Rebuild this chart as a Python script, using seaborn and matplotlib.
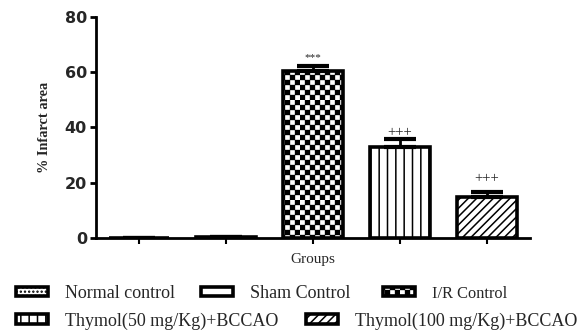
import numpy as np
import pandas as pd
import matplotlib
matplotlib.use("Agg")
import matplotlib.pyplot as plt
import matplotlib.hatch as mhatch
from matplotlib.path import Path
import seaborn as sns

# ---------------- data ----------------
groups = ["Normal control", "Sham Control", "I/R Control",
          "Thymol(50 mg/Kg)+BCCAO", "Thymol(100 mg/Kg)+BCCAO"]
means = [0.0, 0.3, 60.5, 32.8, 14.9]
sems = [0.0, 0.1, 1.9, 3.0, 1.7]
signif = ["", "", "***", "+++", "+++"]
yticks = [0, 20, 40, 60, 80]


# ---------------- custom checkerboard hatch ----------------
class CheckerHatch(mhatch.HatchPatternBase):
    def __init__(self, hatch, density):
        self.n = 20 * hatch.count('c')
        self.num_vertices = 5 * (self.n * self.n // 2)

    def set_vertices_and_codes(self, vertices, codes):
        n = self.n
        s = 1.0 / n
        ins = 0.006
        k = 0
        for i in range(n):
            for j in range(n):
                if (i + j) % 2 == 0:
                    x0, y0 = i * s + ins, j * s + ins
                    x1, y1 = (i + 1) * s - ins, (j + 1) * s - ins
                    vertices[k:k + 5] = [[x0, y0], [x1, y0], [x1, y1], [x0, y1], [x0, y0]]
                    codes[k:k + 5] = [Path.MOVETO, Path.LINETO, Path.LINETO,
                                      Path.LINETO, Path.CLOSEPOLY]
                    k += 5


mhatch._hatch_types.append(CheckerHatch)

# ---------------- style ----------------
sns.set_style("ticks")
plt.rcParams["hatch.linewidth"] = 1.1
plt.rcParams["hatch.color"] = "black"

df = pd.DataFrame({"group": groups, "value": means})

fig = plt.figure(figsize=(5.82, 3.32), dpi=100)
ax = fig.add_axes([0.165, 0.283, 0.746, 0.666])

sns.barplot(data=df, x="group", y="value", hue="group",
            palette=["white"] * len(groups), order=groups, hue_order=groups,
            width=0.69, edgecolor="black", linewidth=2.6, errorbar=None,
            legend=False, ax=ax)

hatches = ["....", "", "c", "||", "////"]
for patch, h in zip(ax.patches, hatches):
    patch.set_hatch(h)
    patch.set_facecolor("white")
    patch.set_edgecolor("black")

xpos = np.arange(len(groups))
ax.errorbar(xpos, means, yerr=[np.zeros(len(sems)), sems], fmt="none",
            ecolor="black", elinewidth=2.0, capsize=11.5, capthick=3.0, zorder=1)

offsets = [0, 0, 5.5, 4.5, 10]
sizes = [8, 8, 8, 10.5, 10.5]
for x, m, s, t, o, fs in zip(xpos, means, sems, signif, offsets, sizes):
    if t:
        ax.annotate(t, (x, m + s), xytext=(0, o), textcoords="offset points",
                    ha="center", va="center", fontsize=fs,
                    family="Liberation Serif")

ax.set_xlim(-0.5, len(groups) - 0.5)
ax.set_ylim(0, 80)
ax.set_yticks(yticks)
ax.set_yticklabels([str(v) for v in yticks], fontsize=11.5, fontweight="bold",
                   family="DejaVu Sans")
ax.set_xticks(xpos)
ax.set_xticklabels([])
ax.tick_params(axis="y", length=4.5, width=2, pad=2, color="black")
ax.tick_params(axis="x", length=4, width=1.5, color="black")
for sp in ["left", "bottom"]:
    ax.spines[sp].set_linewidth(2)
    ax.spines[sp].set_color("black")
sns.despine(ax=ax)

ax.set_ylabel("% Infarct area", fontsize=10.3, fontweight="bold",
              family="Liberation Serif")
ax.yaxis.set_label_coords(-0.104, 0.5)
ax.set_xlabel("Groups", fontsize=11, family="Liberation Serif")
ax.xaxis.set_label_coords(0.5, -0.068)

# ---------------- legend (one entry per box, two flowing rows) ----------------
handles = list(ax.patches)
anchors = [(16, 293.5), (201, 293.5), (383, 293.5), (16, 321), (306, 321)]
fsizes = [13, 13, 11.8, 13, 13]
W, H = 582.0, 332.0
for hnd, lab, (px, py), fs in zip(handles, groups, anchors, fsizes):
    fig.legend([hnd], [lab], frameon=False, loc="center left",
               bbox_to_anchor=(px / W, 1 - py / H),
               handlelength=23.0 / fs, handleheight=5.6 / fs,
               handletextpad=12.5 / fs, borderpad=0, borderaxespad=0,
               prop={"family": "Liberation Serif", "size": fs})

fig.savefig("out.png", dpi=100)
